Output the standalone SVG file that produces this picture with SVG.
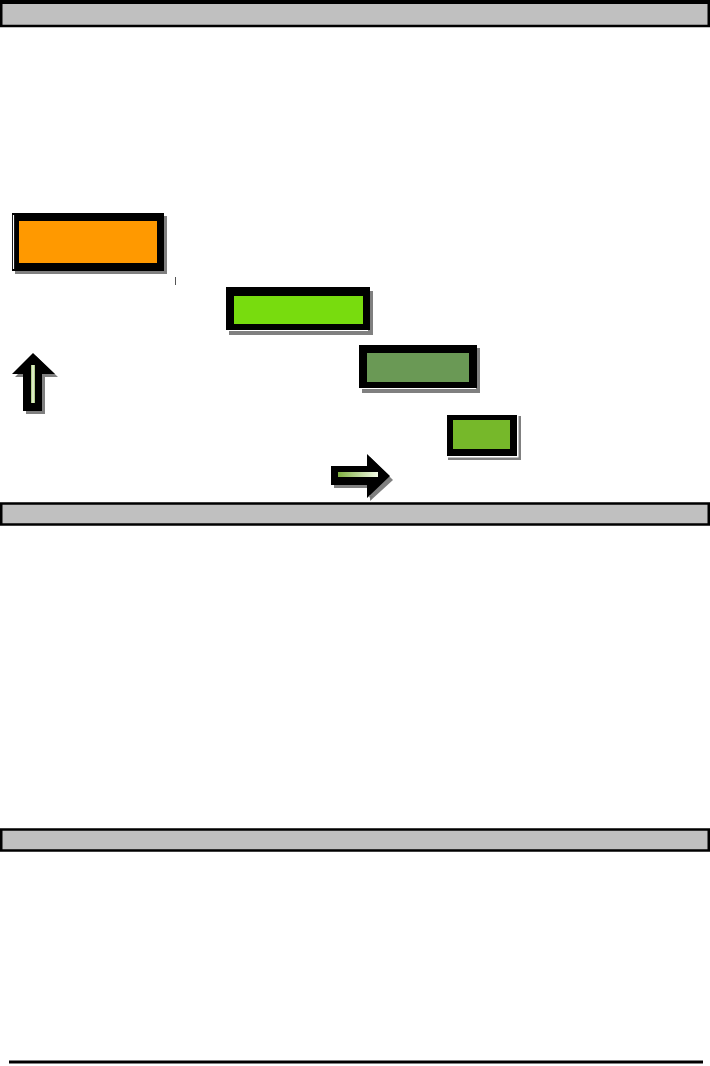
<svg xmlns="http://www.w3.org/2000/svg" width="710" height="1066" viewBox="0 0 710 1066">
<style>
.bar{fill:#C0C0C0;stroke:#000;stroke-width:2.5}
.shadow{fill:#808080}
.frame{fill:#000}
.hl{stroke:#fff;stroke-width:1.2;fill:none}
</style>
<defs>
<linearGradient id="gH" x1="0" y1="0" x2="1" y2="0">
<stop offset="0" stop-color="#7FB040"/>
<stop offset="1" stop-color="#F2F9E6"/>
</linearGradient>
<linearGradient id="gV" x1="0" y1="0" x2="1" y2="0">
<stop offset="0" stop-color="#9CC070"/>
<stop offset="0.5" stop-color="#F0F8E0"/>
<stop offset="1" stop-color="#9CC070"/>
</linearGradient>
</defs>
<rect width="710" height="1066" fill="#fff"/>

<g id="bar1">
<rect class="bar" x="1.25" y="2.5" width="707.5" height="23.5"/>
<rect x="0" y="0" width="710" height="4" fill="#000"/>
</g>

<g id="node-orange">
<rect class="shadow" x="15" y="216" width="152" height="58"/>
<rect class="frame" x="12" y="213" width="152" height="58"/>
<line class="hl" x1="13.5" y1="215" x2="13.5" y2="269"/>
<rect x="19" y="221" width="138" height="42" fill="#FF9900"/>
<line x1="175.5" y1="277" x2="175.5" y2="285" stroke="#555" stroke-width="1"/>
</g>

<g id="node-green1">
<rect class="shadow" x="229" y="291" width="144" height="44"/>
<rect class="frame" x="226" y="287" width="144" height="43"/>
<line class="hl" x1="228" y1="330.5" x2="368" y2="330.5"/>
<rect x="234" y="296" width="129" height="28" fill="#78DC0E"/>
</g>

<g id="node-green2">
<rect class="shadow" x="362" y="348" width="118" height="45"/>
<rect class="frame" x="359" y="345" width="118" height="43"/>
<line class="hl" x1="361" y1="388.5" x2="476" y2="388.5"/>
<rect x="367" y="353" width="102" height="29" fill="#6A9955"/>
</g>

<g id="node-green3">
<rect class="shadow" x="448" y="416" width="73" height="44"/>
<rect x="445.5" y="413.5" width="73" height="44" fill="#fff"/>
<rect class="frame" x="447" y="415" width="70" height="41"/>
<rect x="453" y="420" width="57" height="29" fill="#76B82A"/>
</g>

<g id="connectors">
<g id="arrow-up">
<polygon points="36,356 58,377 45,377 45,414 26,414 26,377 15,377" fill="#808080"/>
<polygon points="33,353 55,374 42,374 42,411 23,411 23,374 12,374" fill="#000"/>
<rect x="31" y="365" width="4" height="38" fill="url(#gV)"/>
</g>
<g id="arrow-right">
<polygon points="334,469 370,469 370,457 393,480 370,501 370,488 334,488" fill="#808080"/>
<polygon points="331,466 367,466 367,454 390,476 367,498 367,485 331,485" fill="#000"/>
<rect x="338" y="472" width="40" height="5" fill="url(#gH)"/>
</g>
</g>

<polygon points="369,496 373,496 371,500" fill="#777"/>

<g id="bar2">
<rect class="bar" x="1.25" y="503.5" width="707.5" height="21"/>
</g>

<g id="bar3">
<rect class="bar" x="1.25" y="829.5" width="707.5" height="21"/>
</g>

<line x1="9" y1="1062" x2="703" y2="1062" stroke="#000" stroke-width="3"/>
</svg>
